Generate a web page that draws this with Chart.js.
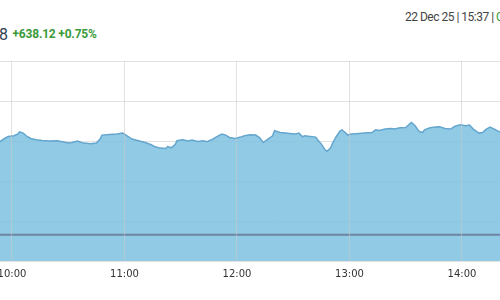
<!DOCTYPE html>
<html>
<head>
<meta charset="utf-8">
<script src="https://cdn.jsdelivr.net/npm/chart.js@4/dist/chart.umd.min.js"></script>
<style>
  html, body { margin: 0; padding: 0; width: 500px; height: 300px; overflow: hidden; background: #fff; position: relative; }
  #price { position: absolute; right: 492px; top: 25px; font: 400 16px Roboto, sans-serif; color: #2d3e50; white-space: nowrap; }
  #change { position: absolute; left: 12.5px; top: 27px; font: 700 12px Roboto, sans-serif; color: #3a9a3a; letter-spacing: -0.2px; white-space: nowrap; }
  #stamp { position: absolute; left: 405px; top: 10px; font: 400 12px Roboto, sans-serif; color: #444; letter-spacing: -0.5px; white-space: nowrap; }
  #stamp b { font-weight: 400; color: #3a9a3a; }
  #wrap { position: absolute; left: -80px; top: 0; width: 720px; height: 300px; }
</style>
</head>
<body>
<div id="price">85,567.48</div>
<div id="change">+638.12 +0.75%</div>
<div id="stamp">22 Dec 25 | 15:37 | <b>Close</b></div>
<div id="wrap"><canvas id="c" width="720" height="300"></canvas></div>
<script>
const prevClose = 84929.36;
const sessionStart = "9:15";
const sessionEnd = "15:30";
const xTickLabels = ["10:00", "11:00", "12:00", "13:00", "14:00", "15:00"];
const times = ["9:53","9:56","9:58","10:01","10:03","10:04","10:06","10:08","10:10","10:13","10:16","10:20","10:24","10:27","10:30","10:32","10:35","10:38","10:42","10:45","10:47","10:48","10:52","10:56","10:59","11:00","11:02","11:04","11:08","11:11","11:14","11:16","11:19","11:22","11:23","11:25","11:27","11:28","11:31","11:34","11:36","11:39","11:42","11:44","11:47","11:50","11:52","11:54","11:56","11:59","12:02","12:04","12:07","12:10","12:12","12:14","12:16","12:19","12:20","12:23","12:26","12:28","12:31","12:33","12:35","12:36","12:39","12:42","12:43","12:45","12:47","12:48","12:50","12:51","12:53","12:55","12:56","12:58","12:59","13:01","13:05","13:08","13:12","13:14","13:16","13:19","13:22","13:24","13:27","13:30","13:31","13:33","13:35","13:37","13:39","13:40","13:43","13:46","13:48","13:51","13:54","13:56","13:59","14:02","14:04","14:06","14:09","14:11","14:13","14:15","14:18","14:20","14:22"];
const prices = [85506.9,85530.6,85543.1,85547.5,85558.1,85572.5,85564.4,85543.1,85530.6,85522.5,85518.1,85514.4,85516.3,85510.0,85501.9,85505.6,85514.4,85501.9,85497.5,85501.9,85526.9,85551.9,85555.6,85558.1,85564.4,85558.1,85543.1,85526.9,85514.4,85505.6,85493.1,85480.6,85470.6,85468.1,85480.6,85472.5,85493.1,85516.3,85522.5,85514.4,85520.6,85511.9,85516.3,85510.0,85526.9,85547.5,85558.1,85551.9,85536.9,85530.6,85539.4,85547.5,85553.8,85551.9,85536.9,85505.6,85522.5,85547.5,85578.8,85568.1,85564.4,85561.9,85558.1,85564.4,85541.3,85547.5,85543.1,85539.4,85522.5,85495.6,85460.0,85450.6,85472.5,85501.9,85543.1,85578.8,85585.0,85564.4,85551.9,85558.1,85561.9,85564.4,85568.1,85585.0,85580.6,85589.4,85593.1,85589.4,85597.5,85599.4,85610.0,85630.6,85610.0,85576.9,85568.1,85585.0,85597.5,85601.9,85603.8,85593.1,85589.4,85605.6,85616.3,85610.0,85614.4,85589.4,85564.4,85568.1,85589.4,85601.9,85585.0,85572.5,85566.3];
const yMin = 84765, yMax = 86015, yStep = 250;

const toMin = s => { const [h, m] = s.split(":").map(Number); return h * 60 + m; };
const fmt = v => String(Math.floor(v / 60)).padStart(2, "0") + ":" + String(v % 60).padStart(2, "0");

const xMin = toMin(sessionStart), xMax = toMin(sessionEnd);
const series = times.map((t, i) => ({ x: toMin(t), y: prices[i] }));
const closeLine = [{ x: xMin, y: prevClose }, { x: xMax, y: prevClose }];

new Chart(document.getElementById("c"), {
  type: "line",
  data: {
    datasets: [
      { data: closeLine, borderColor: "#6d84a3", borderWidth: 2, pointRadius: 0, fill: false },
      { data: series, borderColor: "#64a6ce", borderWidth: 1.5, pointRadius: 0, tension: 0,
        fill: "start", backgroundColor: "rgba(126,193,223,0.85)" }
    ]
  },
  options: {
    responsive: false,
    animation: false,
    events: [],
    layout: { padding: { left: 7.6, right: 9.25, top: 61, bottom: 13 } },
    plugins: { legend: { display: false }, tooltip: { enabled: false } },
    scales: {
      x: {
        type: "linear", min: xMin, max: xMax,
        afterBuildTicks: s => { s.ticks = xTickLabels.map(l => ({ value: toMin(l) })); },
        ticks: { callback: v => fmt(v), color: "#333", font: { family: "DejaVu Sans", size: 10 }, padding: 7, maxRotation: 0, autoSkip: false },
        grid: { color: "rgba(200,200,200,0.55)", drawTicks: false, z: 1 },
        border: { display: false }
      },
      y: {
        min: yMin, max: yMax,
        afterBuildTicks: s => { const t = []; for (let v = yMin; v <= yMax + 0.01; v += yStep) t.push({ value: v }); s.ticks = t; },
        ticks: { display: false },
        grid: { color: "#e2e2e2", drawTicks: false },
        border: { display: false }
      }
    }
  }
});
</script>
</body>
</html>
